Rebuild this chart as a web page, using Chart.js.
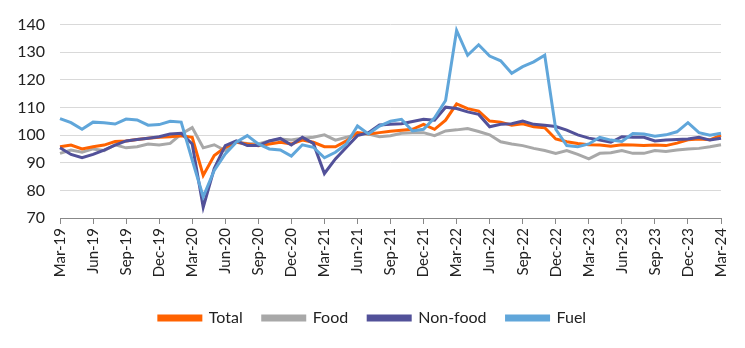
<!DOCTYPE html>
<html>
<head>
<meta charset="utf-8">
<script src="https://cdn.jsdelivr.net/npm/chart.js@4"></script>
<style>
  html, body { margin: 0; padding: 0; background: #fff; }
  #wrap { width: 745px; height: 348px; }
</style>
</head>
<body>
<div id="wrap"><canvas id="chart" width="745" height="348"></canvas></div>
<script>
const months = [
  "Mar-19", "Apr-19", "May-19", "Jun-19", "Jul-19", "Aug-19", "Sep-19", "Oct-19", "Nov-19", "Dec-19",
  "Jan-20", "Feb-20", "Mar-20", "Apr-20", "May-20", "Jun-20", "Jul-20", "Aug-20", "Sep-20", "Oct-20", "Nov-20", "Dec-20",
  "Jan-21", "Feb-21", "Mar-21", "Apr-21", "May-21", "Jun-21", "Jul-21", "Aug-21", "Sep-21", "Oct-21", "Nov-21", "Dec-21",
  "Jan-22", "Feb-22", "Mar-22", "Apr-22", "May-22", "Jun-22", "Jul-22", "Aug-22", "Sep-22", "Oct-22", "Nov-22", "Dec-22",
  "Jan-23", "Feb-23", "Mar-23", "Apr-23", "May-23", "Jun-23", "Jul-23", "Aug-23", "Sep-23", "Oct-23", "Nov-23", "Dec-23",
  "Jan-24", "Feb-24", "Mar-24"
];

// only every third month gets a label on the axis
const tickLabels = [
  "Mar-19", "Jun-19", "Sep-19", "Dec-19", "Mar-20", "Jun-20", "Sep-20", "Dec-20",
  "Mar-21", "Jun-21", "Sep-21", "Dec-21", "Mar-22", "Jun-22", "Sep-22", "Dec-22",
  "Mar-23", "Jun-23", "Sep-23", "Dec-23", "Mar-24"
];

const total = [
  95.8, 96.4, 95.0, 95.8, 96.4, 97.7, 97.9, 98.4, 98.9, 99.2,
  99.4, 99.8, 99.2, 85.4, 92.6, 95.6, 97.4, 96.8, 96.2, 96.8, 97.4, 96.8,
  98.2, 97.4, 95.8, 95.8, 97.9, 100.9, 100.4, 100.9, 101.4, 101.8, 102.1, 103.9,
  102.1, 105.4, 111.3, 109.6, 108.7, 105.1, 104.7, 103.6, 104.1, 103.0, 102.7, 98.6,
  97.6, 97.0, 96.5, 96.4, 96.0, 96.5, 96.4, 96.2, 96.4, 96.2, 97.1, 98.3,
  98.6, 98.3, 100.0
];

const food = [
  93.4, 94.6, 93.8, 95.0, 94.4, 96.5, 95.4, 95.8, 96.8, 96.4,
  97.0, 100.4, 102.7, 95.4, 96.5, 94.4, 97.4, 97.0, 96.8, 97.9, 98.6, 98.2,
  98.9, 99.2, 100.1, 98.2, 99.2, 100.4, 100.4, 99.4, 99.8, 100.7, 100.9, 100.9,
  99.8, 101.5, 101.9, 102.4, 101.3, 100.1, 97.6, 96.8, 96.2, 95.2, 94.4, 93.4,
  94.4, 93.0, 91.4, 93.4, 93.6, 94.4, 93.4, 93.4, 94.4, 94.1, 94.6, 95.0,
  95.2, 95.8, 96.5
];

const nonFood = [
  95.4, 93.0, 91.8, 93.0, 94.6, 96.4, 97.9, 98.4, 98.9, 99.4,
  100.4, 100.7, 96.8, 73.9, 87.9, 96.2, 97.9, 96.2, 96.2, 97.9, 98.8, 96.4,
  99.2, 97.0, 86.1, 91.4, 95.6, 99.8, 100.9, 103.7, 103.9, 104.1, 104.9, 105.7,
  105.4, 110.1, 109.6, 108.4, 107.5, 103.0, 103.9, 104.1, 105.1, 103.9, 103.6, 103.1,
  101.8, 100.1, 98.9, 98.2, 97.4, 99.4, 99.2, 99.2, 97.9, 98.2, 98.4, 98.6,
  99.2, 98.2, 98.9
];

const fuel = [
  106.0, 104.5, 102.1, 104.7, 104.5, 104.0, 105.8, 105.5, 103.6, 103.8,
  105.0, 104.7, 91.0, 77.7, 87.2, 93.2, 97.4, 99.8, 96.8, 95.0, 94.6, 92.4,
  96.5, 95.6, 91.8, 93.8, 96.8, 103.3, 100.4, 103.3, 105.0, 105.7, 101.5, 102.1,
  106.3, 112.5, 137.9, 128.9, 132.7, 128.6, 126.9, 122.4, 124.8, 126.5, 128.9, 102.1,
  96.2, 95.8, 96.8, 99.2, 98.2, 97.7, 100.6, 100.4, 99.6, 100.1, 101.2, 104.5,
  100.9, 100.0, 100.7
];

const FONT = "Lato, 'Noto Sans', sans-serif";
const TEXT = "#222";

function series(label, data, color, order) {
  return {
    label,
    data,
    borderColor: color,
    backgroundColor: color,
    borderWidth: 3,
    pointRadius: 0,
    pointHoverRadius: 0,
    tension: 0,
    fill: false,
    order,
  };
}

// stretch the legend box to the full canvas so its items are centred on the page
const legendCenter = {
  id: "legendCenter",
  afterLayout(chart) {
    if (!chart.legend) return;
    chart.legend.left = 0;
    chart.legend.right = chart.width;
    chart.legend.width = chart.width;
  },
};

new Chart(document.getElementById("chart"), {
  type: "line",
  data: {
    labels: months,
    datasets: [
      series("Total", total, "#ff6200", 3),
      series("Food", food, "#a8a8a8", 4),
      series("Non-food", nonFood, "#525199", 2),
      series("Fuel", fuel, "#60a6da", 1),
    ],
  },
  plugins: [legendCenter],
  options: {
    responsive: false,
    animation: false,
    devicePixelRatio: 1,
    layout: { padding: { top: 22, right: 24, left: 0, bottom: 12 } },
    plugins: {
      tooltip: { enabled: false },
      legend: {
        position: "bottom",
        labels: {
          boxWidth: 42,
          boxHeight: 4,
          padding: 20,
          color: TEXT,
          font: { family: FONT, size: 16 },
          sort: (a, b) => a.datasetIndex - b.datasetIndex,
        },
      },
    },
    scales: {
      x: {
        offset: false,
        grid: {
          drawOnChartArea: false,
          drawTicks: true,
          tickLength: 6,
          color: "#888",
        },
        border: { display: true, color: "#888", width: 1 },
        ticks: {
          autoSkip: false,
          minRotation: 90,
          maxRotation: 90,
          padding: 4,
          color: TEXT,
          font: { family: FONT, size: 15 },
          callback: function (v, i) {
            const m = months[i];
            return tickLabels.includes(m) ? m : null;
          },
        },
        afterFit: (s) => { s.height = 72; },
      },
      y: {
        min: 70,
        max: 140,
        grid: {
          drawTicks: false,
          color: (c) => (c.tick && c.tick.value === 70 ? "rgba(0,0,0,0)" : "#d9d9d9"),
        },
        border: { display: false },
        ticks: {
          stepSize: 10,
          padding: 15,
          color: TEXT,
          font: { family: FONT, size: 16 },
        },
        afterFit: (s) => { s.width = 60; },
      },
    },
  },
});
</script>
</body>
</html>
